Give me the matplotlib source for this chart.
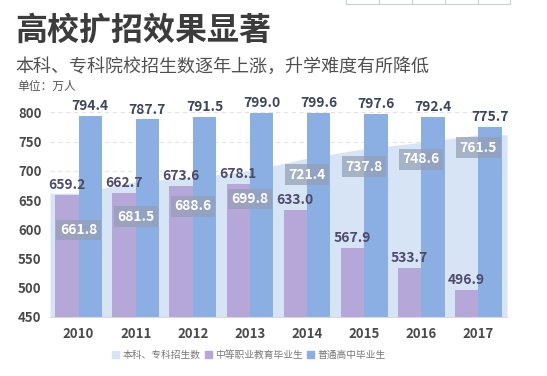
import numpy as np
import matplotlib
matplotlib.use('Agg')
from matplotlib import pyplot as plt
from matplotlib.patches import Patch

plt.rcParams['font.family'] = ['Noto Sans CJK SC', 'DejaVu Sans']

years = ['2010', '2011', '2012', '2013', '2014', '2015', '2016', '2017']
enroll = [661.8, 681.5, 688.6, 699.8, 721.4, 737.8, 748.6, 761.5]      # 本科、专科招生数
vocational = [659.2, 662.7, 673.6, 678.1, 633.0, 567.9, 533.7, 496.9]  # 中等职业教育毕业生
highschool = [794.4, 787.7, 791.5, 799.0, 799.6, 797.6, 792.4, 775.7]  # 普通高中毕业生
series_names = ['本科、专科招生数', '中等职业教育毕业生', '普通高中毕业生']

# how far the enrolment labels sit below the area edge (layout only)
enroll_label_drop = [63, 60, 49, 48, 28, 31, 29, 22]

c_area = '#d6e4f5'
c_purple = '#b5a8d8'
c_blue = '#8cafe3'

fig = plt.figure(figsize=(5.47, 3.76), dpi=100)
ax = fig.add_axes([50/547, 1-317/376, (507-50)/547, (317-112.3)/376])

x = np.arange(len(years))
w = 0.41

# area, stretched flat to the plot edges
xa = np.concatenate([[x[0]-0.5], x, [x[-1]+0.5]])
ya = np.concatenate([[enroll[0]], enroll, [enroll[-1]]])
ax.fill_between(xa, 450, ya, color=c_area, lw=0, zorder=1)

b1 = ax.bar(x - w/2, vocational, w, color=c_purple, zorder=2)
b2 = ax.bar(x + w/2, highschool, w, color=c_blue, zorder=2)

for i in range(len(years)):
    ax.annotate('%.1f' % vocational[i], (x[i]-w/2, vocational[i]), xytext=(0, 2),
                textcoords='offset points', ha='center', va='bottom',
                fontsize=10, fontweight='bold', color='#4d4a6a', zorder=5)
    ax.annotate('%.1f' % highschool[i], (x[i]+w/2, highschool[i]), xytext=(0, 2),
                textcoords='offset points', ha='center', va='bottom',
                fontsize=10, fontweight='bold', color='#3e4659', zorder=5,
                annotation_clip=False)
    ax.text(x[i], enroll[i]-enroll_label_drop[i], '%.1f' % enroll[i], ha='center', va='center',
            fontsize=10, fontweight='bold', color='white', zorder=6,
            bbox=dict(boxstyle='square,pad=0.25', fc='#949fb4', ec='none', alpha=0.72))

ax.set_xlim(-0.5, len(years)-0.5)
ax.set_ylim(450, 800)
ax.set_yticks(range(450, 801, 50))
ax.set_xticks(x)
ax.set_xticklabels(years)
ax.tick_params(axis='both', length=0, colors='#4a4a4a', labelsize=9.5)
ax.tick_params(axis='y', pad=6)
ax.tick_params(axis='x', pad=7)
for lab in ax.get_xticklabels() + ax.get_yticklabels():
    lab.set_fontweight('bold')

for yv in range(500, 801, 50):
    ax.axhline(yv, color='#e4e4e4', lw=0.8, ls=(0, (4, 3)), zorder=0)
for s in ['top', 'right', 'left']:
    ax.spines[s].set_visible(False)
ax.spines['bottom'].set_color('#d9d9d9')
ax.spines['bottom'].set_zorder(3)

handles = [Patch(color=c_area), Patch(color=c_purple), Patch(color=c_blue)]
fig.legend(handles, series_names, loc='center', bbox_to_anchor=(0.455, 1-355/376), ncol=3,
           frameon=False, fontsize=7, handlelength=0.7, handleheight=0.7,
           handletextpad=0.3, columnspacing=0.5, labelcolor='#777777')

fig.text(15/547, 1-31/376, '高校扩招效果显著', fontsize=23, fontweight='bold',
         color='#3c3c3c', va='center')
fig.text(15/547, 1-67/376, '本科、专科院校招生数逐年上涨，升学难度有所降低', fontsize=13,
         color='#505050', va='center')
fig.text(17/547, 1-86/376, '单位：万人', fontsize=8.5, color='#555555', va='center')

# bit of a table cut off at the top edge
tx = [346, 379, 412, 445, 478, 510]
for t in tx:
    fig.add_artist(plt.Line2D([t/547, t/547], [1, 1-4/376], color='#c8d0d0', lw=0.8))
fig.add_artist(plt.Line2D([tx[0]/547, tx[-1]/547], [1-4/376, 1-4/376], color='#c8d0d0', lw=0.8))

fig.savefig('out.png', dpi=100)
